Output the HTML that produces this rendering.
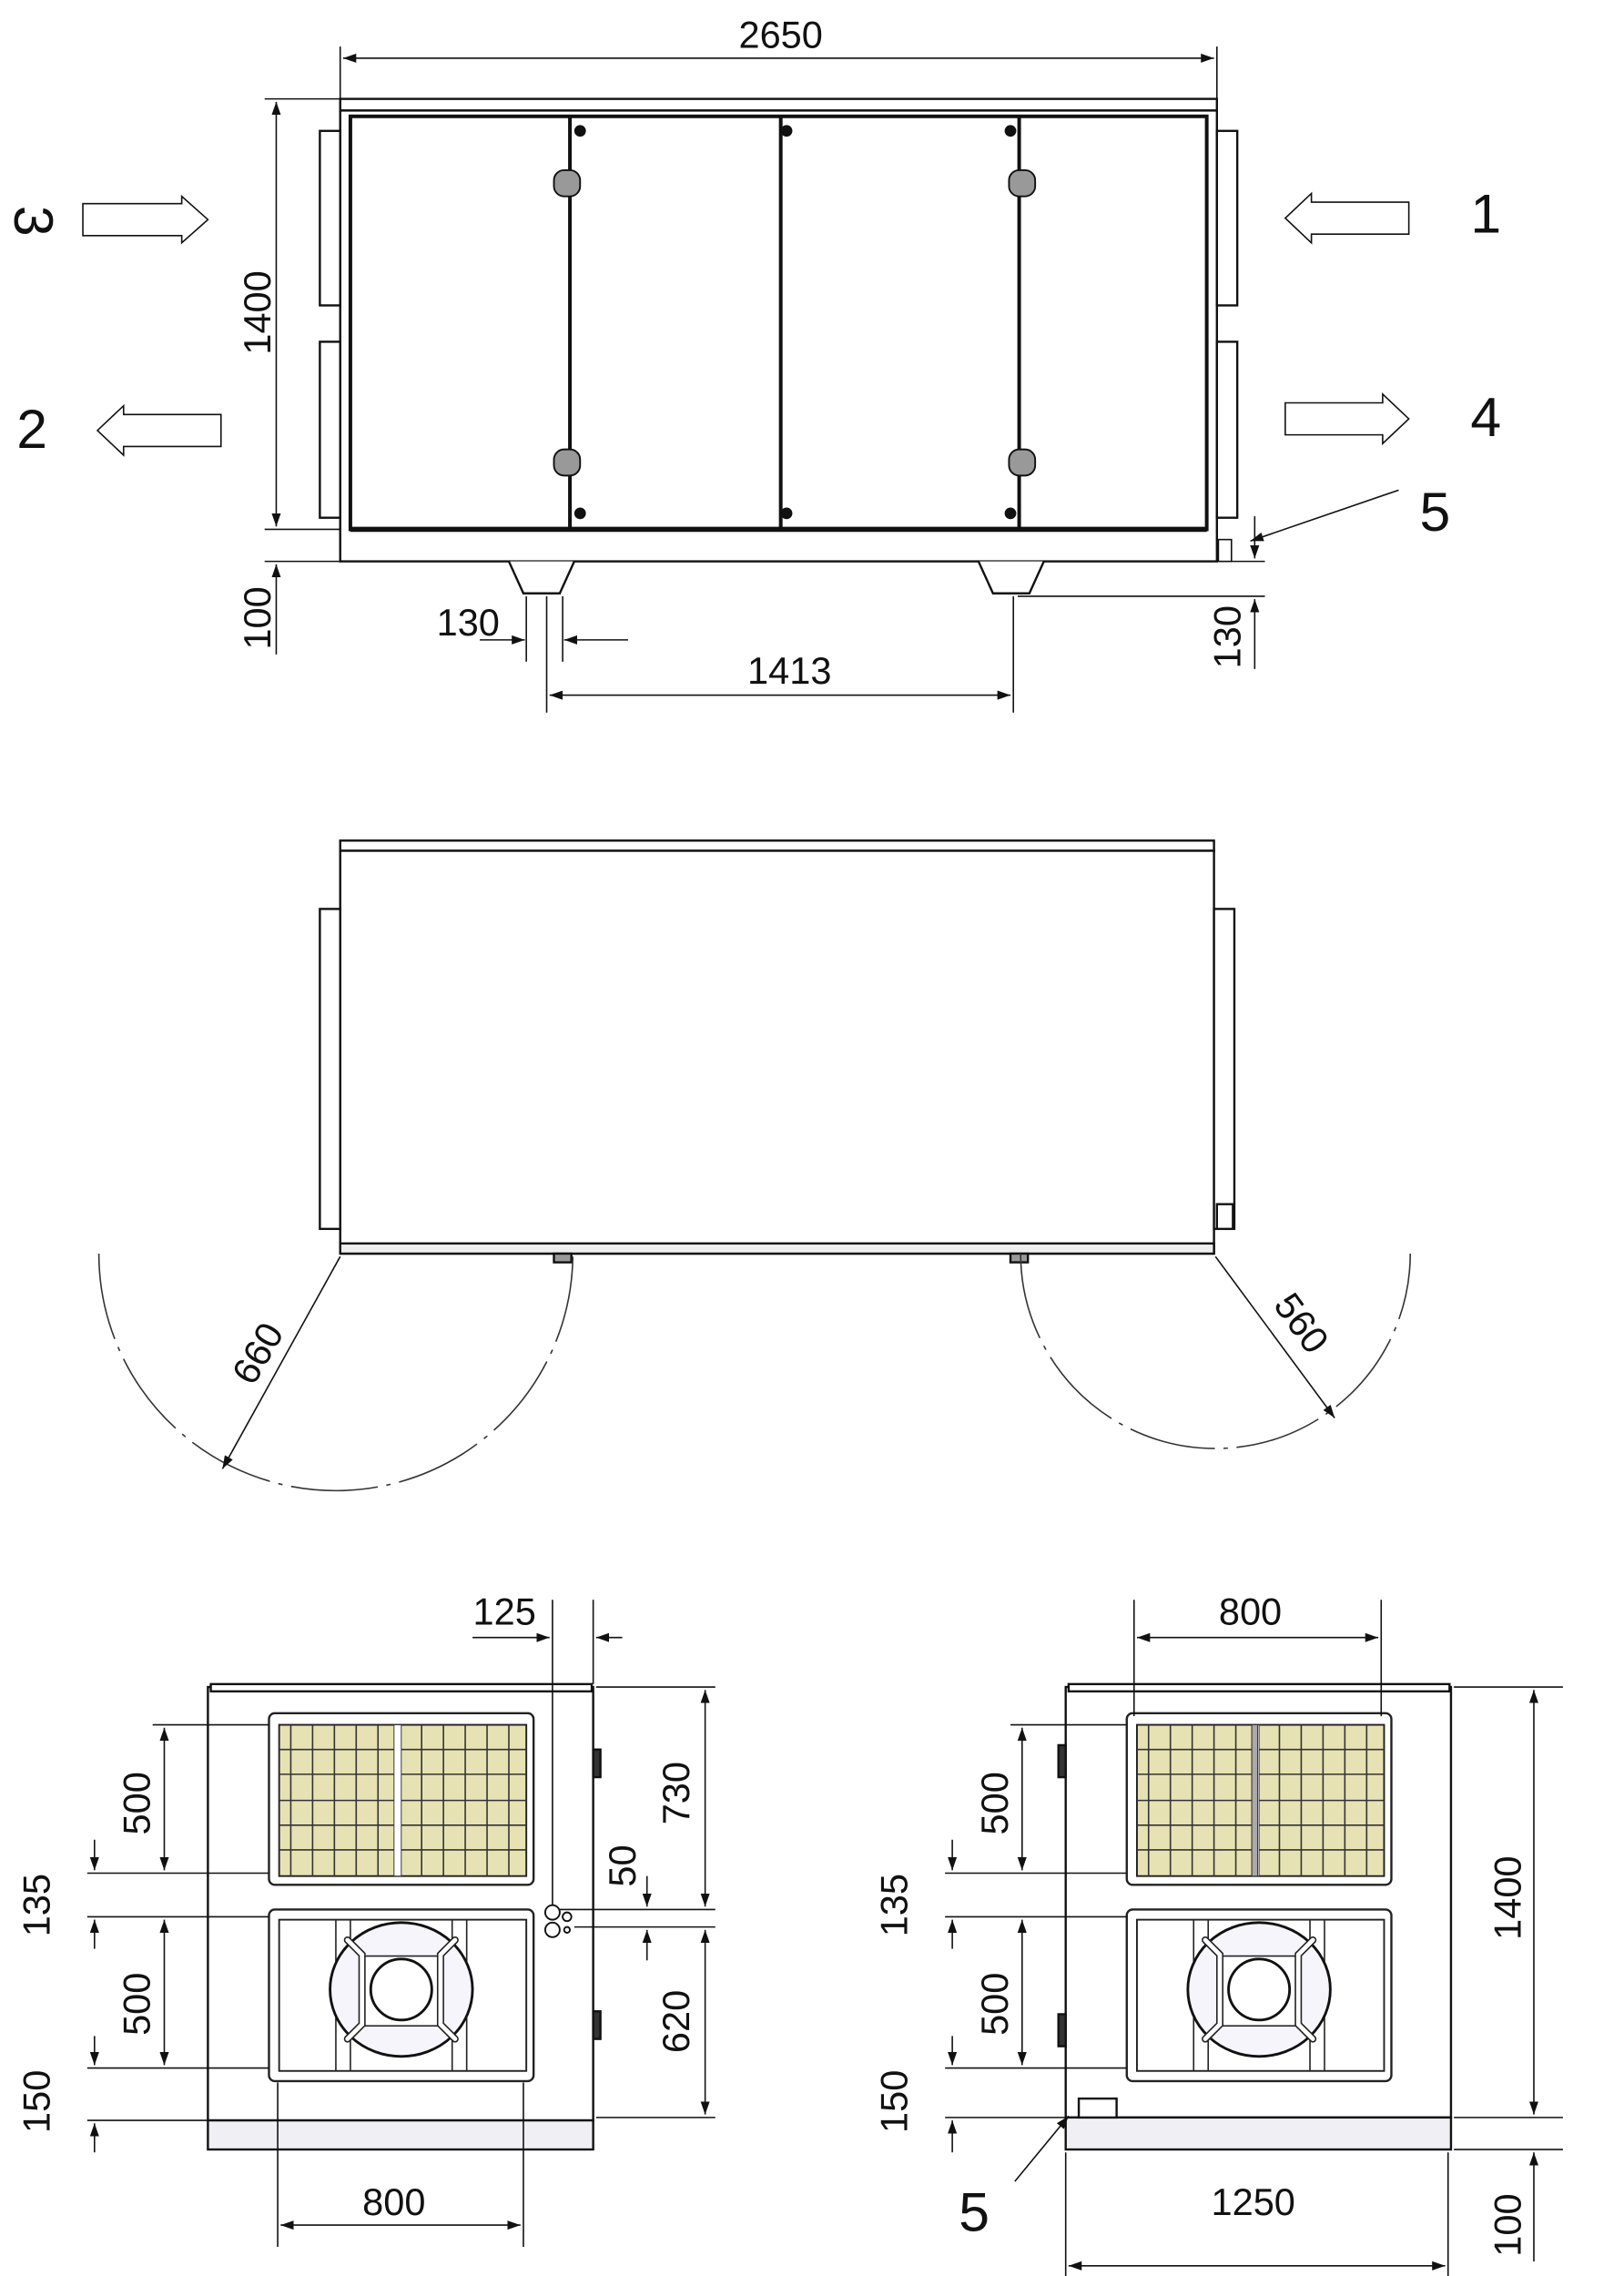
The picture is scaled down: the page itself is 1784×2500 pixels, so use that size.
<!DOCTYPE html>
<html><head><meta charset="utf-8"><style>html,body{margin:0;padding:0;background:#fff}svg{display:block}text{font-family:"Liberation Sans",sans-serif;font-size:26px;fill:#111}</style></head>
<body>
<svg width="1784" height="2500" viewBox="0 0 1117 1565" preserveAspectRatio="none" xmlns="http://www.w3.org/2000/svg">
<defs>
<marker id="a" viewBox="0 0 10 10" refX="10" refY="5" markerWidth="9" markerHeight="9" orient="auto-start-reverse" markerUnits="userSpaceOnUse"><path d="M0,1.5 L10,5 L0,8.5 Z" fill="#111"/></marker>
<g id="filt">
<rect x="185" y="1178" width="182" height="118" rx="4" fill="#fff" stroke="#222" stroke-width="1.5"/>
<rect x="192" y="1186" width="170" height="104" fill="#e6e2b4" stroke="#222" stroke-width="1.2"/>
<g stroke="#333" stroke-width="1">
<line x1="192" y1="1203" x2="362" y2="1203"/><line x1="192" y1="1220" x2="362" y2="1220"/><line x1="192" y1="1238" x2="362" y2="1238"/><line x1="192" y1="1255" x2="362" y2="1255"/><line x1="192" y1="1272" x2="362" y2="1272"/>
<line x1="200" y1="1186" x2="200" y2="1290"/><line x1="215" y1="1186" x2="215" y2="1290"/><line x1="230" y1="1186" x2="230" y2="1290"/><line x1="245" y1="1186" x2="245" y2="1290"/><line x1="260" y1="1186" x2="260" y2="1290"/>
<line x1="290" y1="1186" x2="290" y2="1290"/><line x1="305" y1="1186" x2="305" y2="1290"/><line x1="320" y1="1186" x2="320" y2="1290"/><line x1="335" y1="1186" x2="335" y2="1290"/><line x1="350" y1="1186" x2="350" y2="1290"/>
</g>
<rect x="271" y="1186" width="5" height="104" fill="#fff" stroke="#333" stroke-width="0.6"/>
</g>
<g id="fan">
<rect x="185" y="1313" width="182" height="118" rx="4" fill="#fff" stroke="#222" stroke-width="1.5"/>
<rect x="192" y="1320" width="170" height="104" fill="#fff" stroke="#222" stroke-width="1.2"/>
<line x1="231" y1="1320" x2="231" y2="1424" stroke="#222"/><line x1="241" y1="1320" x2="241" y2="1424" stroke="#222"/>
<line x1="311" y1="1320" x2="311" y2="1424" stroke="#222"/><line x1="321" y1="1320" x2="321" y2="1424" stroke="#222"/>
<ellipse cx="276" cy="1368" rx="49" ry="46" fill="#f5f5fb" stroke="#111" stroke-width="1.8"/>
<rect x="250" y="1345" width="52" height="48" fill="#fff" stroke="#222"/>
<circle cx="276" cy="1368" r="21" fill="#fff" stroke="#111" stroke-width="1.8"/>
<g stroke="#222" stroke-width="5" stroke-linecap="round" fill="none"><path d="M239,1334 L249,1344 L249,1392 L239,1402"/><path d="M313,1334 L303,1344 L303,1392 L313,1402"/></g>
<g stroke="#fff" stroke-width="3" stroke-linecap="round" fill="none"><path d="M239,1334 L249,1344 L249,1392 L239,1402"/><path d="M313,1334 L303,1344 L303,1392 L313,1402"/></g>
</g>
</defs>

<!-- ================= TOP VIEW ================= -->
<g stroke="#111" fill="none" stroke-width="1">
<line x1="234" y1="32" x2="234" y2="68"/><line x1="837" y1="32" x2="837" y2="68"/>
<line x1="236" y1="40" x2="835" y2="40" marker-start="url(#a)" marker-end="url(#a)"/>
<line x1="182" y1="68" x2="234" y2="68"/><line x1="182" y1="364" x2="234" y2="364"/>
<line x1="190" y1="70" x2="190" y2="362" marker-start="url(#a)" marker-end="url(#a)"/>
<line x1="182" y1="386" x2="234" y2="386"/>
<line x1="190" y1="388" x2="190" y2="450" marker-start="url(#a)"/>
<line x1="362" y1="410" x2="362" y2="455"/><line x1="376" y1="410" x2="376" y2="490"/><line x1="387" y1="410" x2="387" y2="455"/>
<line x1="330" y1="440" x2="361" y2="440" marker-end="url(#a)"/>
<line x1="432" y1="440" x2="388" y2="440" marker-end="url(#a)"/>
<line x1="697" y1="410" x2="697" y2="490"/>
<line x1="378" y1="478" x2="695" y2="478" marker-start="url(#a)" marker-end="url(#a)"/>
<line x1="700" y1="410" x2="870" y2="410"/><line x1="838" y1="386" x2="870" y2="386"/>
<line x1="863" y1="355" x2="863" y2="384" marker-end="url(#a)"/>
<line x1="863" y1="460" x2="863" y2="412" marker-end="url(#a)"/>
<line x1="962" y1="337" x2="860" y2="372" marker-end="url(#a)"/>
</g>
<!-- box -->
<g stroke="#111" fill="#fff">
<rect x="234" y="68" width="603" height="8" stroke-width="1.5"/>
<rect x="234" y="76" width="603" height="310" stroke-width="1.5"/>
<rect x="241" y="80" width="589" height="284" stroke-width="2.5"/>
<line x1="241" y1="364" x2="830" y2="364" stroke-width="3.5"/>
<line x1="392" y1="80" x2="392" y2="364" stroke-width="2.5"/>
<line x1="537" y1="80" x2="537" y2="364" stroke-width="2.5"/>
<line x1="701" y1="80" x2="701" y2="364" stroke-width="2.5"/>
<rect x="220" y="90" width="14" height="120" stroke-width="1.5"/>
<rect x="220" y="235" width="14" height="121" stroke-width="1.5"/>
<rect x="837" y="90" width="14" height="120" stroke-width="1.5"/>
<rect x="837" y="235" width="14" height="121" stroke-width="1.5"/>
<rect x="838" y="371" width="9" height="15" stroke-width="1"/>
<path d="M350,386 L360,408 L385,408 L395,386" stroke-width="1.5"/>
<path d="M673,386 L683,408 L708,408 L718,386" stroke-width="1.5"/>
</g>
<g fill="#111"><circle cx="399" cy="90" r="4"/><circle cx="541" cy="90" r="4"/><circle cx="695" cy="90" r="4"/><circle cx="399" cy="353" r="4"/><circle cx="541" cy="353" r="4"/><circle cx="695" cy="353" r="4"/></g>
<g fill="#999" stroke="#111" stroke-width="1.2">
<rect x="381" y="117" width="18" height="18" rx="7"/><rect x="694" y="117" width="18" height="18" rx="7"/>
<rect x="381" y="309" width="18" height="18" rx="7"/><rect x="694" y="309" width="18" height="18" rx="7"/>
</g>
<g stroke="#111" stroke-width="1" fill="#fff">
<path d="M57,140 L125,140 L125,135 L143,151 L125,167 L125,162 L57,162 Z"/>
<path d="M152,285 L85,285 L85,279 L67,296 L85,313 L85,307 L152,307 Z"/>
<path d="M969,139 L902,139 L902,133 L884,150 L902,167 L902,161 L969,161 Z"/>
<path d="M884,277 L951,277 L951,271 L969,288 L951,305 L951,299 L884,299 Z"/>
</g>
<text x="537" y="33" text-anchor="middle">2650</text>
<text transform="translate(186,215) rotate(-90)" text-anchor="middle">1400</text>
<text transform="translate(186,425) rotate(-90)" text-anchor="middle">100</text>
<text x="322" y="437" text-anchor="middle">130</text>
<text x="543" y="470" text-anchor="middle">1413</text>
<text transform="translate(853,438) rotate(-90)" text-anchor="middle">130</text>
<text x="987" y="365" text-anchor="middle" font-size="38" style="font-size:38px">5</text>
<text x="22" y="164" text-anchor="middle" style="font-size:38px" transform="rotate(90 22 152)">3</text>
<text x="22" y="308" text-anchor="middle" style="font-size:38px">2</text>
<text x="1022" y="160" text-anchor="middle" style="font-size:38px">1</text>
<text x="1022" y="300" text-anchor="middle" style="font-size:38px">4</text>

<!-- ================= MIDDLE VIEW ================= -->
<g stroke="#111" fill="#fff" stroke-width="1.5">
<rect x="234" y="578" width="601" height="7"/>
<rect x="234" y="585" width="601" height="277"/>
<rect x="234" y="855" width="601" height="7" fill="#eee"/>
<rect x="220" y="625" width="14" height="220"/>
<rect x="835" y="625" width="14" height="220"/>
<rect x="837" y="828" width="11" height="17"/>
<rect x="381" y="862" width="12" height="6" fill="#999"/>
<rect x="695" y="862" width="12" height="6" fill="#999"/>
</g>
<g stroke="#333" fill="none" stroke-width="1" stroke-dasharray="60,6,3,6">
<path d="M68,862 A163,163 0 0 0 394,862"/>
<path d="M702,862 A134,134 0 0 0 970,862"/>
</g>
<g stroke="#111" stroke-width="1">
<line x1="234" y1="864" x2="153" y2="1010" marker-end="url(#a)"/>
<line x1="836" y1="864" x2="918" y2="975" marker-end="url(#a)"/>
</g>
<text transform="translate(185,935) rotate(-60)" text-anchor="middle">660</text>
<text transform="translate(888,915) rotate(54)" text-anchor="middle">560</text>

<!-- ================= BOTTOM LEFT ================= -->
<g stroke="#111" fill="#fff" stroke-width="1.5">
<rect x="143" y="1160" width="265" height="298"/>
<rect x="145" y="1158" width="262" height="5"/>
<rect x="143" y="1458" width="265" height="20" fill="#f0f0f4"/>
<rect x="408" y="1203" width="5" height="19" fill="#333"/>
<rect x="408" y="1383" width="5" height="19" fill="#333"/>
</g>
<use href="#filt"/>
<use href="#fan"/>
<g fill="#fff" stroke="#111" stroke-width="1.2"><circle cx="380" cy="1315" r="5"/><circle cx="380" cy="1327" r="5"/><circle cx="390" cy="1318" r="3"/><circle cx="390" cy="1327" r="2"/></g>
<g stroke="#111" stroke-width="1" fill="none">
<line x1="60" y1="1288" x2="185" y2="1288"/><line x1="60" y1="1318" x2="185" y2="1318"/>
<line x1="105" y1="1186" x2="185" y2="1186"/><line x1="60" y1="1422" x2="185" y2="1422"/><line x1="60" y1="1458" x2="143" y2="1458"/>
<line x1="113" y1="1188" x2="113" y2="1286" marker-start="url(#a)" marker-end="url(#a)"/>
<line x1="113" y1="1320" x2="113" y2="1420" marker-start="url(#a)" marker-end="url(#a)"/>
<line x1="65" y1="1265" x2="65" y2="1286" marker-end="url(#a)"/><line x1="65" y1="1340" x2="65" y2="1320" marker-end="url(#a)"/>
<line x1="65" y1="1400" x2="65" y2="1420" marker-end="url(#a)"/><line x1="65" y1="1480" x2="65" y2="1460" marker-end="url(#a)"/>
<line x1="380" y1="1100" x2="380" y2="1310"/><line x1="408" y1="1100" x2="408" y2="1158"/>
<line x1="325" y1="1126" x2="378" y2="1126" marker-end="url(#a)"/><line x1="428" y1="1126" x2="410" y2="1126" marker-end="url(#a)"/>
<line x1="410" y1="1160" x2="492" y2="1160"/><line x1="385" y1="1313" x2="492" y2="1313"/><line x1="395" y1="1325" x2="492" y2="1325"/><line x1="410" y1="1456" x2="492" y2="1456"/>
<line x1="485" y1="1162" x2="485" y2="1311" marker-start="url(#a)" marker-end="url(#a)"/>
<line x1="485" y1="1327" x2="485" y2="1454" marker-start="url(#a)" marker-end="url(#a)"/>
<line x1="445" y1="1290" x2="445" y2="1311" marker-end="url(#a)"/><line x1="445" y1="1348" x2="445" y2="1327" marker-end="url(#a)"/>
<line x1="191" y1="1432" x2="191" y2="1545"/><line x1="360" y1="1432" x2="360" y2="1545"/>
<line x1="193" y1="1530" x2="358" y2="1530" marker-start="url(#a)" marker-end="url(#a)"/>
</g>
<text transform="translate(103,1240) rotate(-90)" text-anchor="middle">500</text>
<text transform="translate(103,1378) rotate(-90)" text-anchor="middle">500</text>
<text transform="translate(34,1310) rotate(-90)" text-anchor="middle">135</text>
<text transform="translate(34,1445) rotate(-90)" text-anchor="middle">150</text>
<text x="347" y="1117" text-anchor="middle">125</text>
<text transform="translate(474,1233) rotate(-90)" text-anchor="middle">730</text>
<text transform="translate(437,1283) rotate(-90)" text-anchor="middle">50</text>
<text transform="translate(474,1390) rotate(-90)" text-anchor="middle">620</text>
<text x="271" y="1523" text-anchor="middle">800</text>

<!-- ================= BOTTOM RIGHT ================= -->
<g stroke="#111" fill="#fff" stroke-width="1.5">
<rect x="733" y="1160" width="265" height="296"/>
<rect x="735" y="1158" width="262" height="5"/>
<rect x="733" y="1456" width="265" height="22" fill="#f0f0f4"/>
<rect x="728" y="1200" width="5" height="22" fill="#333"/>
<rect x="728" y="1385" width="5" height="22" fill="#333"/>
<rect x="742" y="1443" width="26" height="13"/>
</g>
<g transform="translate(590,0)"><use href="#filt"/><use href="#fan"/></g>
<rect x="861" y="1186" width="4" height="104" fill="#aaa" stroke="#333" stroke-width="0.6"/>
<g stroke="#111" stroke-width="1" fill="none">
<line x1="650" y1="1288" x2="775" y2="1288"/><line x1="650" y1="1318" x2="775" y2="1318"/>
<line x1="695" y1="1186" x2="775" y2="1186"/><line x1="650" y1="1422" x2="775" y2="1422"/><line x1="650" y1="1456" x2="733" y2="1456"/>
<line x1="703" y1="1188" x2="703" y2="1286" marker-start="url(#a)" marker-end="url(#a)"/>
<line x1="703" y1="1320" x2="703" y2="1420" marker-start="url(#a)" marker-end="url(#a)"/>
<line x1="655" y1="1265" x2="655" y2="1286" marker-end="url(#a)"/><line x1="655" y1="1340" x2="655" y2="1320" marker-end="url(#a)"/>
<line x1="655" y1="1400" x2="655" y2="1420" marker-end="url(#a)"/><line x1="655" y1="1480" x2="655" y2="1458" marker-end="url(#a)"/>
<line x1="780" y1="1100" x2="780" y2="1180"/><line x1="950" y1="1100" x2="950" y2="1180"/>
<line x1="782" y1="1126" x2="948" y2="1126" marker-start="url(#a)" marker-end="url(#a)"/>
<line x1="1000" y1="1160" x2="1075" y2="1160"/><line x1="1000" y1="1456" x2="1075" y2="1456"/><line x1="1000" y1="1478" x2="1075" y2="1478"/>
<line x1="1055" y1="1162" x2="1055" y2="1454" marker-start="url(#a)" marker-end="url(#a)"/>
<line x1="1055" y1="1555" x2="1055" y2="1480" marker-end="url(#a)"/>
<line x1="733" y1="1480" x2="733" y2="1570"/><line x1="996" y1="1480" x2="996" y2="1570"/>
<line x1="735" y1="1558" x2="994" y2="1558" marker-start="url(#a)" marker-end="url(#a)"/>
<line x1="698" y1="1500" x2="735" y2="1455" marker-end="url(#a)"/>
</g>
<text transform="translate(693,1240) rotate(-90)" text-anchor="middle">500</text>
<text transform="translate(693,1378) rotate(-90)" text-anchor="middle">500</text>
<text transform="translate(624,1310) rotate(-90)" text-anchor="middle">135</text>
<text transform="translate(624,1445) rotate(-90)" text-anchor="middle">150</text>
<text x="860" y="1117" text-anchor="middle">800</text>
<text transform="translate(1046,1305) rotate(-90)" text-anchor="middle">1400</text>
<text transform="translate(1046,1530) rotate(-90)" text-anchor="middle">100</text>
<text x="862" y="1523" text-anchor="middle">1250</text>
<text x="670" y="1534" text-anchor="middle" style="font-size:38px">5</text>
</svg>
</body></html>
